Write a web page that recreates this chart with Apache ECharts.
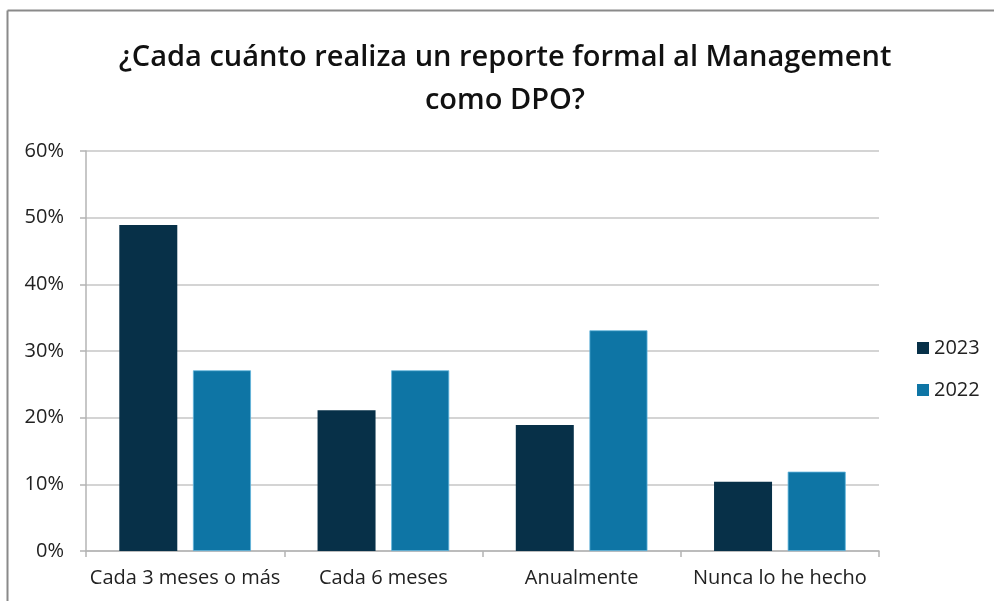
<!DOCTYPE html>
<html>
<head>
<meta charset="utf-8">
<script src="https://cdn.jsdelivr.net/npm/echarts@6/dist/echarts.min.js"></script>
<style>
html,body{margin:0;padding:0;background:#fff;}
#chart{width:994px;height:601px;}
</style>
</head>
<body>
<div id="chart"></div>
<script>
const titleLines = ['¿Cada cuánto realiza un reporte formal al Management', 'como DPO?'];
const categories = ['Cada 3 meses o más', 'Cada 6 meses', 'Anualmente', 'Nunca lo he hecho'];
const seriesNames = ['2023', '2022'];
const values2023 = [48.9, 21.1, 18.9, 10.4];
const values2022 = [27.1, 27.1, 33.1, 11.9];
const yTicks = [0, 10, 20, 30, 40, 50, 60];

const chart = echarts.init(document.getElementById('chart'), null, {renderer: 'canvas'});
const font = '"Open Sans", "Noto Sans", sans-serif';
chart.setOption({
  backgroundColor: '#ffffff',
  animation: false,
  graphic: [
    {type: 'line', shape: {x1: 7.5, y1: 10.5, x2: 994, y2: 10.5}, style: {stroke: '#8a8a8a', lineWidth: 2}},
    {type: 'line', shape: {x1: 7.5, y1: 10.5, x2: 7.5, y2: 601}, style: {stroke: '#8a8a8a', lineWidth: 2}},
    {type: 'text', x: 505, y: 58, style: {text: titleLines[0], font: '600 29px ' + font, fill: '#111', align: 'center', verticalAlign: 'middle'}},
    {type: 'text', x: 505, y: 101, style: {text: titleLines[1], font: '600 29px ' + font, fill: '#111', align: 'center', verticalAlign: 'middle'}}
  ],
  legend: {
    orient: 'vertical',
    left: 912,
    top: 333,
    itemWidth: 12,
    itemHeight: 12,
    itemGap: 22,
    icon: 'rect',
    itemStyle: {borderWidth: 0},
    textStyle: {fontFamily: font, fontSize: 20, color: '#222'},
    data: seriesNames
  },
  grid: {left: 86, right: 115, top: 151, bottom: 50, containLabel: false},
  xAxis: {
    type: 'category',
    data: categories,
    axisLine: {show: true, lineStyle: {color: '#b4b4b4', width: 1.5}},
    axisTick: {show: true, length: 6, lineStyle: {color: '#b4b4b4', width: 1.5}},
    axisLabel: {interval: 0, fontFamily: font, fontSize: 20, color: '#222', margin: 17}
  },
  yAxis: {
    type: 'value',
    min: 0,
    max: 60,
    interval: 10,
    axisLine: {show: true, lineStyle: {color: '#b4b4b4', width: 1.5}},
    axisTick: {show: true, length: 6, lineStyle: {color: '#b4b4b4', width: 1.5}},
    axisLabel: {fontFamily: font, fontSize: 20, color: '#222', margin: 22, formatter: v => yTicks.includes(v) ? v + '%' : ''},
    splitLine: {lineStyle: {color: '#c6c6c6', width: 1.5}}
  },
  series: [
    {name: seriesNames[0], type: 'bar', data: values2023, barWidth: 58, barGap: '27%', itemStyle: {color: '#073048'}},
    {name: seriesNames[1], type: 'bar', data: values2022, barWidth: 58, barGap: '27%', itemStyle: {color: '#0e75a5', borderColor: '#5fb4dc', borderWidth: 0.8}}
  ]
});
</script>
</body>
</html>
